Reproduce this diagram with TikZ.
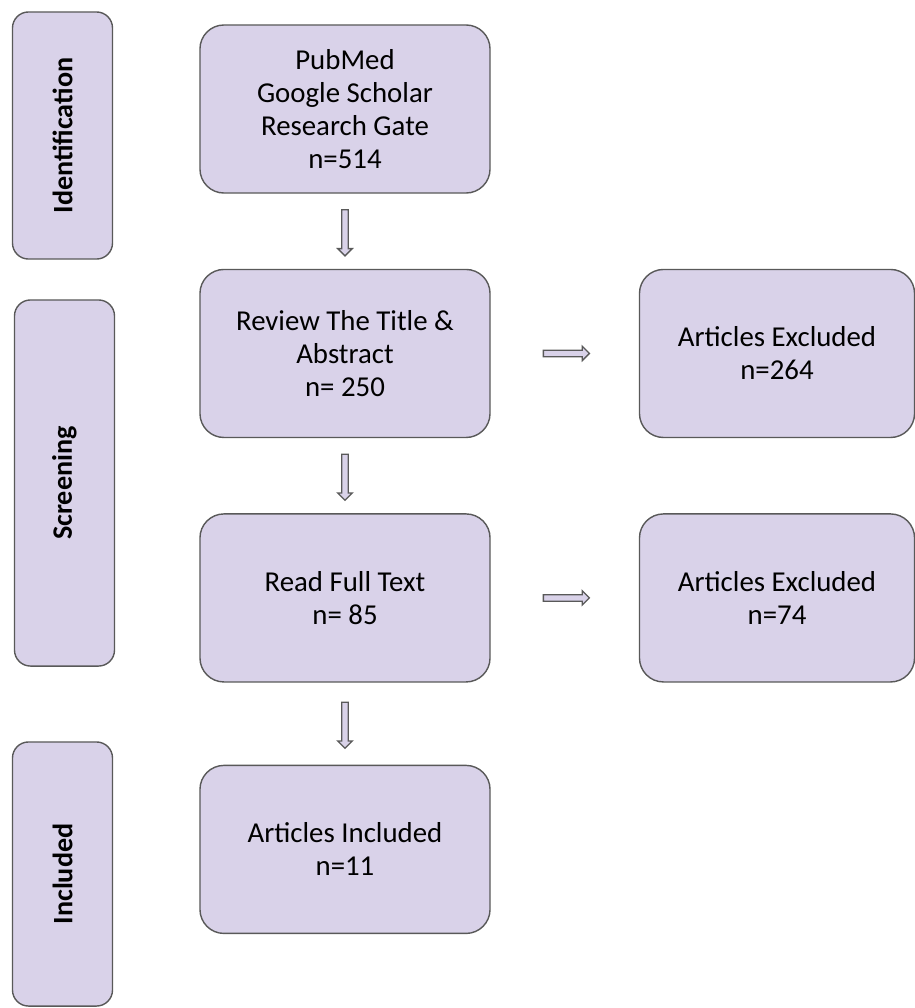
\documentclass[tikz,border=0pt]{standalone}
\usepackage{fontspec}
\setmainfont{Carlito}
\usetikzlibrary{shapes.arrows,positioning,calc}
\definecolor{boxfill}{HTML}{D9D2E9}
\definecolor{boxline}{HTML}{595959}

\begin{document}
\begin{tikzpicture}[x=0.025cm,y=-0.025cm,node distance=1.875cm,
                    font=\fontsize{20.5}{23.5}\selectfont]
  \tikzstyle{block}=[draw=boxline,fill=boxfill,line width=1pt,rounded corners=0.6cm,
                     minimum width=7.25cm,minimum height=4.2cm,align=center,inner sep=0]
  \tikzstyle{stage}=[draw=boxline,fill=boxfill,line width=1pt,rounded corners=0.4cm,
                     rotate=90,minimum height=2.5cm,font=\fontsize{20}{24}\selectfont\bfseries]
  \tikzstyle{blockarrow}=[single arrow,draw=boxline,fill=boxfill,line width=0.9pt,
                          minimum height=1.15cm,inner xsep=0,inner ysep=0.065cm,
                          single arrow head extend=0.1cm]

  \useasboundingbox (0,0) rectangle (915,1008);

  % stages on the left
  \node[stage,minimum width=6.175cm] (ident)  at (62.5,135.5) {Identification};
  \node[stage,minimum width=9.15cm]  (screen) at (64.5,483)   {Screening};
  \node[stage,minimum width=6.6cm]   (incl)   at (62.5,874)   {Included};

  % main column
  \node[block] (search)              at (345,109) {PubMed\\Google Scholar\\Research Gate\\n=514};
  \node[block] (review) [below=of search]        {Review The Title \&\\Abstract\\n= 250};
  \node[block] (full)   [below=of review]        {Read Full Text\\n= 85};
  \node[block] (final)  [below=2.05cm of full]   {Articles Included\\n=11};

  % excluded
  \node[block,minimum width=6.875cm] (excl1) [right=3.7cm of review] {Articles Excluded\\n=264};
  \node[block,minimum width=6.875cm] (excl2) [right=3.7cm of full]   {Articles Excluded\\n=74};

  \node[blockarrow,rotate=-90] at ($(search.south)!0.5!(review.north)$) {};
  \node[blockarrow,rotate=-90] at ($(review.south)!0.5!(full.north)$) {};
  \node[blockarrow,rotate=-90] at ($(full.south)!0.5!(final.north)$) {};
  \node[blockarrow] at ($(review.east)!0.5!(excl1.west)$) {};
  \node[blockarrow] at ($(full.east)!0.5!(excl2.west)$) {};
\end{tikzpicture}
\end{document}
